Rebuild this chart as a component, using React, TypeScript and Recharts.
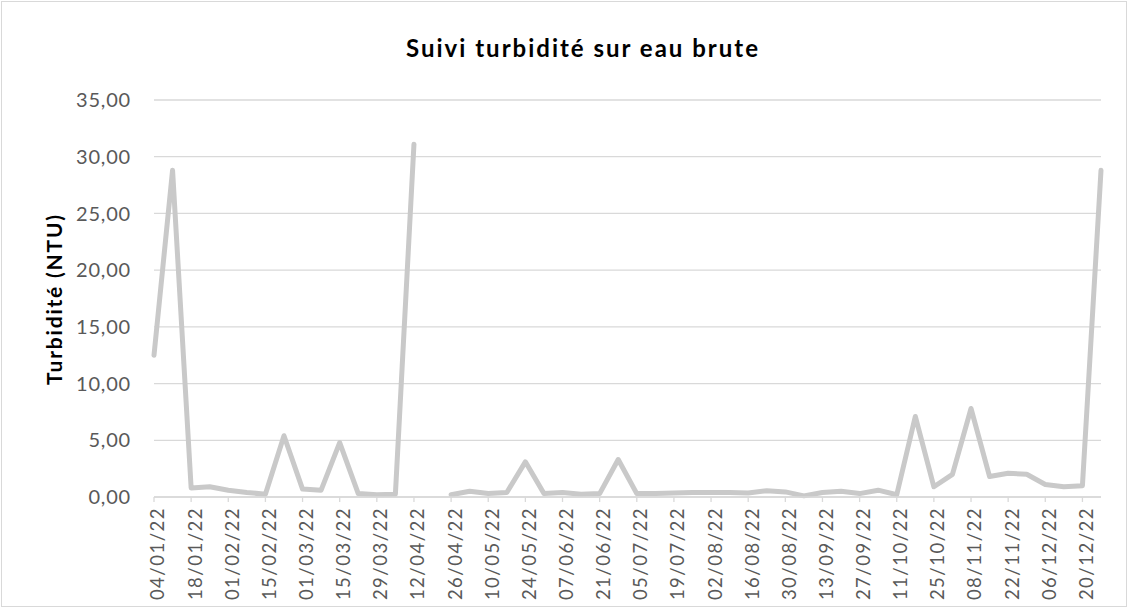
import React from 'react';
import { LineChart, Line, XAxis, YAxis, CartesianGrid } from 'recharts';

const dates = [
  '04/01/22', '11/01/22', '18/01/22', '25/01/22',
  '01/02/22', '08/02/22', '15/02/22', '22/02/22',
  '01/03/22', '08/03/22', '15/03/22', '22/03/22', '29/03/22',
  '05/04/22', '12/04/22', '19/04/22', '26/04/22',
  '03/05/22', '10/05/22', '17/05/22', '24/05/22', '31/05/22',
  '07/06/22', '14/06/22', '21/06/22', '28/06/22',
  '05/07/22', '12/07/22', '19/07/22', '26/07/22',
  '02/08/22', '09/08/22', '16/08/22', '23/08/22', '30/08/22',
  '06/09/22', '13/09/22', '20/09/22', '27/09/22',
  '04/10/22', '11/10/22', '18/10/22', '25/10/22',
  '01/11/22', '08/11/22', '15/11/22', '22/11/22', '29/11/22',
  '06/12/22', '13/12/22', '20/12/22', '27/12/22',
];

const turbidity: (number | null)[] = [
  12.5, 28.8, 0.8, 0.9,
  0.6, 0.4, 0.25, 5.4,
  0.7, 0.6, 4.8, 0.3, 0.2,
  0.25, 31.1, null, 0.2,
  0.5, 0.3, 0.4, 3.1, 0.3,
  0.4, 0.25, 0.3, 3.3,
  0.3, 0.3, 0.35, 0.4,
  0.4, 0.4, 0.35, 0.55, 0.45,
  0.1, 0.4, 0.5, 0.3,
  0.6, 0.2, 7.1, 0.9,
  2.0, 7.8, 1.8, 2.1, 2.0,
  1.1, 0.9, 1.0, 28.8,
];

const yTicks = [0, 5, 10, 15, 20, 25, 30, 35];

const title = 'Suivi turbidité sur eau brute';
const yTitle = 'Turbidité (NTU)';

const data = dates.map((d, i) => ({ date: d, value: turbidity[i] }));

const FONT = 'Lato, "Open Sans", sans-serif';

const XTick = (props: any) => {
  const { x, y, payload } = props;
  const tx = x + 4;
  return (
    <text
      x={tx}
      y={y}
      transform={`rotate(-90 ${tx} ${y})`}
      textAnchor="end"
      dy="0.35em"
      fill="#595959"
      fontSize={18.5}
      letterSpacing={1.5}
      fontFamily={FONT}
    >
      {payload.value}
    </text>
  );
};

const fmt = (v: number) => v.toFixed(2).replace('.', ',');

export default function App() {
  return (
    <div style={{ position: 'absolute', left: 0, top: 0, width: 1128, height: 608, background: '#fff' }}>
      <div
        style={{
          position: 'absolute',
          left: 1,
          top: 1,
          width: 1124,
          height: 604,
          border: '1px solid #d9d9d9',
        }}
      />
      <LineChart
        width={1128}
        height={608}
        data={data}
        margin={{ top: 100, right: 27, left: 94, bottom: 11 }}
        style={{ position: 'absolute', left: 0, top: 0 }}
      >
        <CartesianGrid vertical={false} stroke="#d9d9d9" strokeWidth={1.3} />
        <XAxis
          dataKey="date"
          interval={1}
          height={100}
          tickSize={5}
          tickMargin={5}
          axisLine={{ stroke: '#d9d9d9', strokeWidth: 1.3 }}
          tickLine={{ stroke: '#d9d9d9', strokeWidth: 1.3 }}
          tick={<XTick />}
        />
        <YAxis
          width={60}
          domain={[0, 35]}
          ticks={yTicks}
          tickFormatter={fmt}
          axisLine={false}
          tickLine={false}
          tickSize={0}
          tickMargin={23}
          tick={{ fill: '#595959', fontSize: 20, fontFamily: FONT, letterSpacing: 0.8 }}
        />
        <Line
          type="linear"
          dataKey="value"
          stroke="#c9c9c9"
          strokeWidth={5}
          strokeLinecap="round"
          strokeLinejoin="round"
          dot={false}
          activeDot={false}
          connectNulls={false}
          isAnimationActive={false}
        />
      </LineChart>
      <svg
        width={1128}
        height={608}
        style={{ position: 'absolute', left: 0, top: 0, pointerEvents: 'none' }}
      >
        <text
          x={583}
          y={57}
          textAnchor="middle"
          fontFamily={FONT}
          fontWeight="bold"
          fontSize={24}
          letterSpacing={2}
          fill="#000"
        >
          {title}
        </text>
        <text
          x={62}
          y={299}
          transform="rotate(-90 62 299)"
          textAnchor="middle"
          fontFamily={FONT}
          fontWeight="bold"
          fontSize={21}
          letterSpacing={1.8}
          fill="#000"
        >
          {yTitle}
        </text>
      </svg>
    </div>
  );
}
